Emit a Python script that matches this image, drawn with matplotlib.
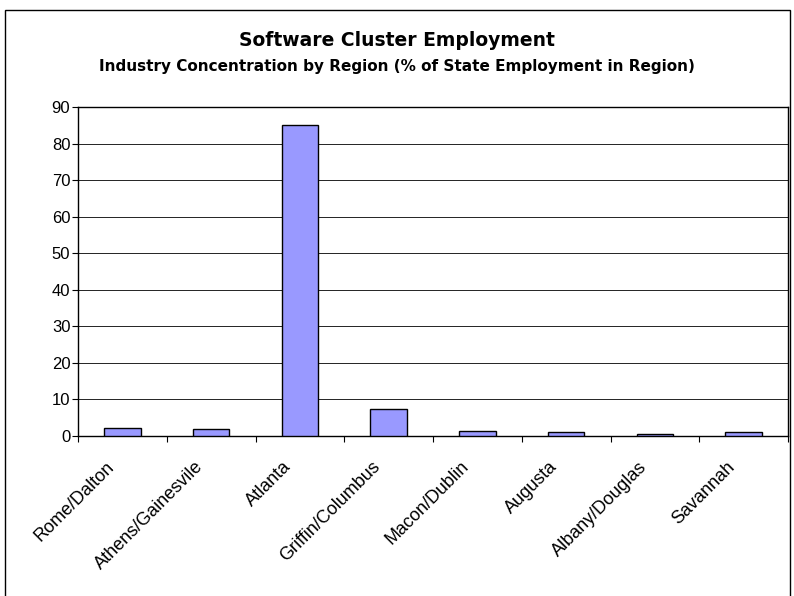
import matplotlib.pyplot as plt
import matplotlib.transforms as mtransforms
from matplotlib.patches import Rectangle

plt.rcParams['font.family'] = ['Liberation Sans', 'DejaVu Sans']

regions = ['Rome/Dalton', 'Athens/Gainesvile', 'Atlanta', 'Griffin/Columbus',
           'Macon/Dublin', 'Augusta', 'Albany/Douglas', 'Savannah']
share = [2.3, 1.8, 85.0, 7.4, 1.5, 1.0, 0.5, 1.0]
y_ticks = list(range(0, 91, 10))

fig = plt.figure(figsize=(7.94, 5.96), dpi=100)

# chart frame
fig.patches.append(Rectangle((5 / 794, -0.1), 785 / 794, 1.1 - 10 / 596,
                             transform=fig.transFigure, fill=False,
                             edgecolor='black', linewidth=1))

ax = fig.add_axes([78 / 794, 160 / 596, 710 / 794, 329 / 596])
x = list(range(len(regions)))
ax.bar(x, share, width=0.41, color='#9999FF', edgecolor='black', linewidth=1, zorder=3)

ax.set_xlim(-0.5, len(regions) - 0.5)
ax.set_ylim(0, 90)
ax.set_yticks(y_ticks)
ax.tick_params(axis='y', labelsize=12, length=4, direction='out', pad=1.5)
ax.grid(axis='y', color='black', linewidth=0.6, zorder=0)

ax.set_xticks([i - 0.5 for i in range(len(regions) + 1)])
ax.set_xticklabels([])
ax.tick_params(axis='x', length=4, direction='out')
ax.set_xticks(x, minor=True)
ax.set_xticklabels(regions, minor=True, rotation=45, ha='right',
                   rotation_mode='anchor', fontsize=13)
ax.tick_params(axis='x', which='minor', length=0, pad=16)

# nudge the slanted category names left so they end under each bar
shift = mtransforms.ScaledTranslation(-17 / 100, 0, fig.dpi_scale_trans)
for lbl in ax.get_xticklabels(minor=True):
    lbl.set_transform(lbl.get_transform() + shift)

for s in ax.spines.values():
    s.set_linewidth(1)
    s.set_color('black')

fig.text(0.5, 1 - 41 / 596, 'Software Cluster Employment', ha='center', va='center',
         fontsize=13.5, fontweight='bold', family='DejaVu Sans')
fig.text(0.5, 1 - 66 / 596, 'Industry Concentration by Region (% of State Employment in Region)',
         ha='center', va='center', fontsize=11, fontweight='bold', family='DejaVu Sans')

fig.savefig('out.png', dpi=100)
